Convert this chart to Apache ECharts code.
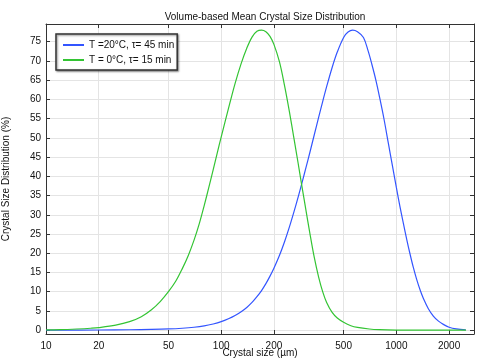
<!DOCTYPE html>
<html><head><meta charset="utf-8">
<script src="https://cdn.jsdelivr.net/npm/echarts@6/dist/echarts.min.js"></script>
<style>html,body{margin:0;padding:0;background:#fff}#c{width:483px;height:362px}</style>
</head><body><div id="c"></div>
<script>
const titleText = 'Volume-based Mean Crystal Size Distribution';
const xName = 'Crystal size (µm)';
const yName = 'Crystal Size Distribution (%)';
const seriesNames = ['T =20°C, τ= 45 min', 'T = 0°C, τ= 15 min'];
const xTickLabels = [10, 20, 50, 100, 200, 500, 1000, 2000];
const yTickLabels = [0,5,10,15,20,25,30,35,40,45,50,55,60,65,70,75];

const blueX = [10,20,30,40,50,60,70,80,90,100,110,120,130,140,150,160,170,180,190,200,215,230,245,260,275,290,305,320,340,360,380,400,430,460,500,530,563,600,649,690,724,765,807,850,900,950,1000,1050,1096,1150,1197,1250,1306,1370,1427,1520,1626,1740,1854,2000,2200,2490];
const blueY = [0,0.04,0.1,0.2,0.32,0.5,0.75,1.1,1.6,2.2,2.95,3.8,4.8,5.9,7.2,8.7,10.3,12.1,14.05,16.1,19.4,23.0,26.8,30.7,34.6,38.5,42.3,46.0,50.8,55.3,59.5,63.3,68.3,72.3,76.1,77.5,78.0,77.6,76.1,72.6,69.2,64.9,60.0,54.9,48.6,42.7,37.1,32.0,27.8,23.3,19.8,16.3,13.2,10.3,8.25,5.65,3.66,2.34,1.5,0.77,0.32,0.06];

const greenX = [10,12,15,18,20,25,30,35,40,45,50,55,60,65,70,75,80,85,90,95,100,110,120,130,140,150,160,170,180,190,200,215,230,245,260,275,290,305,320,340,360,380,400,430,460,500,550,600,700,800,1000,1500,2500];
const greenY = [0.05,0.12,0.3,0.5,0.67,1.3,2.2,3.5,5.3,7.5,10.0,12.7,16.0,19.5,23.4,27.7,32.4,37.1,41.7,46.1,50.2,57.6,64.1,69.3,73.3,76.2,77.7,78.0,77.6,76.4,74.3,69.8,63.6,56.9,50.0,43.4,37.0,31.1,25.5,18.9,13.8,9.95,7.2,4.6,3.15,2.05,1.15,0.7,0.3,0.13,0.03,0,0];

const FONT = 'Liberation Sans';
const xMin = 1, xMax = Math.log10(2775);
const yMin = -1, yMax = 79.6;
const xTicks = xTickLabels.map(v => Math.log10(v));
const frame = {show:true, onZero:false, lineStyle:{color:'#333', width:1}};

const chart = echarts.init(document.getElementById('c'), null, {renderer:'canvas'});
chart.setOption({
  animation:false,
  backgroundColor:'#fff',
  textStyle:{fontFamily:FONT},
  title:{text:titleText, left:260, top:7, textAlign:'center',
    textStyle:{fontFamily:FONT, fontSize:10, fontWeight:'normal', color:'#111'}},
  legend:{
    orient:'vertical', left:56, top:34, padding:[6,3,5,6], itemGap:5,
    itemWidth:21, itemHeight:10,
    backgroundColor:'#fff', borderColor:'#333', borderWidth:1.5,
    shadowColor:'rgba(0,0,0,0.45)', shadowBlur:2, shadowOffsetX:1, shadowOffsetY:1,
    itemStyle:{color:'transparent', borderWidth:0, opacity:0},
    textStyle:{fontFamily:FONT, fontSize:10, color:'#111'},
    data:seriesNames
  },
  grid:{left:46, right:9, top:24, bottom:28, containLabel:false, outerBoundsMode:'none'},
  xAxis:[{
    type:'value', min:xMin, max:xMax, position:'bottom',
    name:xName, nameLocation:'middle', nameGap:14, nameMoveOverlap:false,
    nameTextStyle:{fontFamily:FONT, fontSize:10, color:'#111'},
    axisLine:frame,
    axisTick:{show:true, inside:true, length:4, customValues:xTicks, lineStyle:{color:'#333'}},
    axisLabel:{show:true, margin:7, fontFamily:FONT, fontSize:10, color:'#111', customValues:xTicks,
      formatter:v => String(Math.round(Math.pow(10, v)))},
    splitLine:{show:true, lineStyle:{color:'#e4e4e4', width:1}}
  },{
    type:'value', min:xMin, max:xMax, position:'top',
    axisLine:frame,
    axisTick:{show:true, inside:true, length:4, customValues:xTicks, lineStyle:{color:'#333'}},
    axisLabel:{show:false}, splitLine:{show:false}
  }],
  yAxis:[{
    type:'value', min:yMin, max:yMax, position:'left',
    name:yName, nameLocation:'middle', nameGap:35, nameRotate:90, nameMoveOverlap:false,
    nameTextStyle:{fontFamily:FONT, fontSize:10, color:'#111'},
    axisLine:frame,
    axisTick:{show:true, inside:true, length:4, customValues:yTickLabels, lineStyle:{color:'#333'}},
    axisLabel:{show:true, margin:5, fontFamily:FONT, fontSize:10, color:'#111', customValues:yTickLabels},
    splitLine:{show:true, lineStyle:{color:'#e4e4e4', width:1}}
  },{
    type:'value', min:yMin, max:yMax, position:'right',
    axisLine:frame,
    axisTick:{show:true, inside:true, length:4, customValues:yTickLabels, lineStyle:{color:'#333'}},
    axisLabel:{show:false}, splitLine:{show:false}
  }],
  series:[{
    name:seriesNames[0], type:'line', symbol:'none', smooth:0.35,
    xAxisIndex:0, yAxisIndex:0,
    lineStyle:{color:'#3355ff', width:1.2}, itemStyle:{color:'#3355ff'},
    data:blueX.map((x,i) => [Math.log10(x), blueY[i]])
  },{
    name:seriesNames[1], type:'line', symbol:'none', smooth:0.35,
    xAxisIndex:0, yAxisIndex:0,
    lineStyle:{color:'#33c433', width:1.2}, itemStyle:{color:'#33c433'},
    data:greenX.map((x,i) => [Math.log10(x), greenY[i]])
  }]
});
</script></body></html>
